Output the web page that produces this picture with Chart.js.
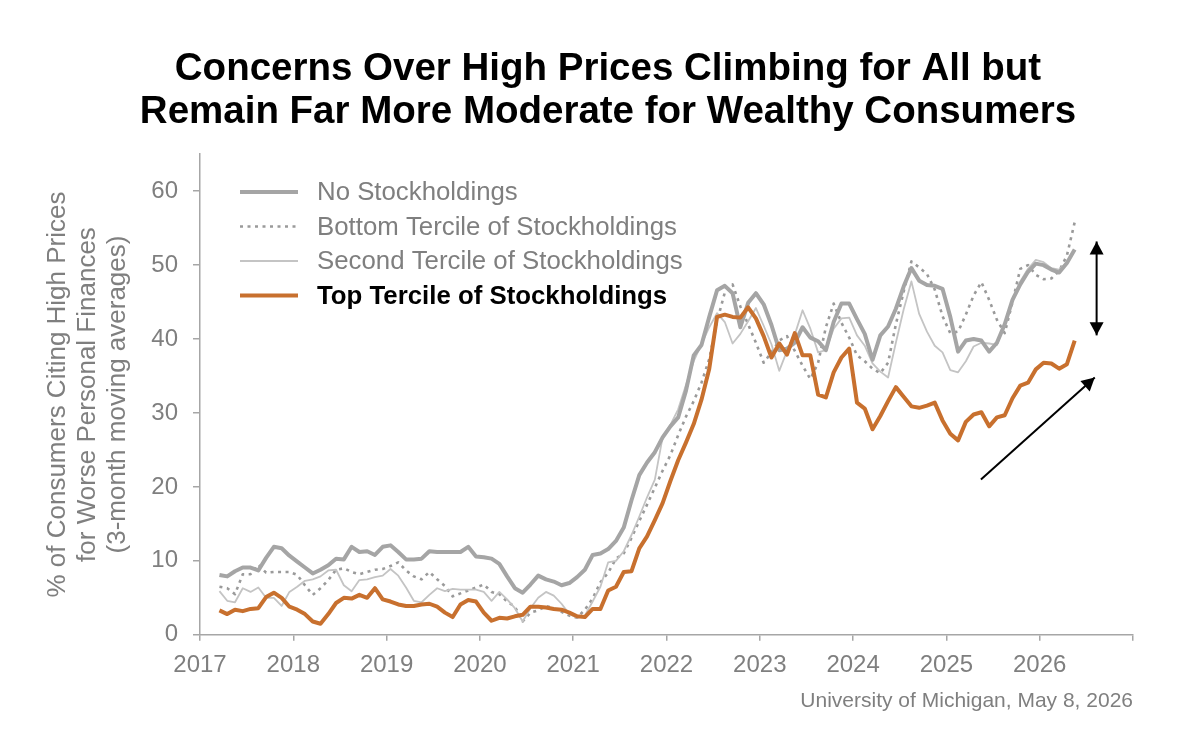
<!DOCTYPE html>
<html>
<head>
<meta charset="utf-8">
<title>Concerns Over High Prices</title>
<script src="https://cdn.jsdelivr.net/npm/chart.js@4.4.1/dist/chart.umd.min.js"></script>
<style>
  html, body { margin: 0; padding: 0; background: #fff; }
  #wrap { width: 1200px; height: 738px; position: relative; }
</style>
</head>
<body>
<div id="wrap"><canvas id="pricesChart"></canvas></div>
<script>
// Monthly 3-month moving averages, March 2017 through May 2026
const firstYear = 2017;
const firstMonth = 3;

const noStock = [
  8.1, 7.9, 8.6, 9.1, 9.1, 8.7, 10.4, 11.9, 11.7, 10.7,
  9.9, 9.1, 8.3, 8.8, 9.4, 10.3, 10.2, 11.9, 11.2, 11.3,
  10.8, 11.9, 12.1, 11.2, 10.2, 10.2, 10.3, 11.3, 11.2, 11.2,
  11.2, 11.2, 11.9, 10.6, 10.5, 10.3, 9.6, 7.9, 6.3, 5.7,
  6.8, 8.0, 7.5, 7.2, 6.7, 7.0, 7.8, 8.8, 10.8, 11.0,
  11.6, 12.7, 14.5, 18.2, 21.6, 23.3, 24.7, 26.7, 28.2, 29.4,
  33.0, 37.8, 39.2, 43.0, 46.6, 47.2, 46.2, 41.6, 44.9, 46.2,
  44.7, 41.9, 38.5, 38.7, 39.5, 41.6, 40.2, 39.7, 38.5, 42.3,
  44.8, 44.8, 42.7, 40.7, 37.2, 40.5, 41.7, 44.1, 47.1, 49.6,
  47.9, 47.3, 47.2, 46.8, 43.0, 38.3, 39.8, 40.0, 39.8, 38.3,
  39.5, 42.0, 45.3, 47.4, 49.1, 50.2, 50.0, 49.4, 49.0, 50.3,
  52.1
];

const bottomTercile = [
  6.5, 6.3, 5.5, 8.2, 8.2, 9.5, 8.4, 8.5, 8.5, 8.5,
  8.1, 6.7, 5.4, 6.3, 7.4, 8.8, 9.0, 8.5, 8.2, 8.5,
  8.8, 8.9, 9.3, 9.8, 8.7, 7.9, 7.5, 8.5, 7.5, 6.6,
  5.2, 5.6, 6.0, 6.4, 6.8, 5.8, 5.5, 4.5, 3.8, 1.8,
  3.0, 3.3, 3.9, 3.6, 3.1, 2.6, 2.3, 3.4, 4.9, 7.1,
  8.4, 10.3, 11.0, 13.1, 15.4, 17.6, 19.9, 22.2, 24.3, 27.0,
  29.5, 31.6, 34.1, 37.3, 42.4, 46.3, 47.4, 44.4, 42.0, 39.5,
  36.8, 38.2, 39.8, 40.4, 38.4, 36.4, 34.6, 36.8, 41.6, 44.8,
  42.2, 40.2, 37.8, 37.0, 36.0, 35.4, 36.8, 42.0, 46.4, 50.5,
  49.7, 48.8, 46.7, 43.1, 40.8, 41.0, 43.3, 45.9, 47.7, 45.3,
  42.6, 40.8, 45.0, 49.5, 50.0, 48.7, 48.1, 48.2, 49.2, 51.3,
  55.8
];

const secondTercile = [
  5.9, 4.6, 4.4, 6.3, 5.8, 6.4, 5.0, 5.0, 3.9, 5.8,
  6.5, 7.3, 7.5, 7.9, 8.7, 8.8, 6.7, 5.9, 7.4, 7.5,
  7.8, 8.0, 8.9, 8.0, 6.4, 4.6, 4.4, 5.4, 6.3, 5.9,
  6.2, 6.1, 6.1, 6.1, 5.8, 4.6, 5.8, 4.8, 3.6, 1.8,
  3.6, 5.0, 5.8, 5.3, 4.2, 2.8, 2.3, 2.6, 4.5, 6.5,
  9.8, 10.0, 11.3, 13.5, 16.0, 18.6, 21.0, 26.7, 28.4, 30.5,
  33.8, 37.0, 39.3, 41.6, 43.5, 42.3, 39.4, 40.7, 42.4, 44.2,
  41.8, 39.3, 35.7, 38.4, 40.6, 43.9, 41.4, 38.2, 38.5, 41.4,
  42.8, 42.9, 40.5, 39.1, 36.7, 35.6, 34.8, 39.5, 44.0, 47.8,
  43.4, 41.0, 39.1, 38.2, 35.8, 35.5, 37.0, 39.0, 39.5, 39.4,
  39.2, 42.0, 45.3, 47.8, 49.5, 50.7, 50.4, 49.6, 49.4, 50.4,
  52.0
];

const topTercile = [
  3.3, 2.8, 3.4, 3.2, 3.5, 3.6, 5.1, 5.7, 5.0, 3.8,
  3.4, 2.8, 1.8, 1.5, 2.8, 4.3, 5.0, 4.9, 5.4, 5.0,
  6.3, 4.8, 4.5, 4.1, 3.9, 3.9, 4.1, 4.2, 3.8, 3.0,
  2.4, 4.1, 4.7, 4.5, 3.0, 1.9, 2.3, 2.2, 2.5, 2.7,
  3.8, 3.8, 3.7, 3.5, 3.4, 3.0, 2.5, 2.4, 3.5, 3.5,
  6.0, 6.5, 8.5, 8.6, 11.7, 13.3, 15.5, 17.8, 20.8, 23.6,
  26.0, 28.5, 31.8, 36.0, 43.0, 43.3, 43.0, 42.9, 44.3, 42.8,
  40.4, 37.5, 39.4, 37.9, 40.8, 37.8, 37.8, 32.5, 32.1, 35.5,
  37.5, 38.7, 31.4, 30.6, 27.8, 29.6, 31.6, 33.5, 32.2, 30.9,
  30.7, 31.0, 31.4, 29.0, 27.2, 26.3, 28.8, 29.8, 30.1, 28.2,
  29.4, 29.7, 32.0, 33.7, 34.1, 35.9, 36.8, 36.7, 36.0, 36.6,
  39.8
];

const seriesNames = [
  "No Stockholdings",
  "Bottom Tercile of Stockholdings",
  "Second Tercile of Stockholdings",
  "Top Tercile of Stockholdings"
];

const yearTicks = [2017, 2018, 2019, 2020, 2021, 2022, 2023, 2024, 2025, 2026];
const valueTicks = [0, 10, 20, 30, 40, 50, 60];

// month -> decimal year (plotted mid-month)
const monthX = noStock.map((_, i) => firstYear + (firstMonth - 1 + i + 0.5) / 12);
const toPoints = (vals) => vals.map((v, i) => ({ x: monthX[i], y: v }));

// annotation arrows, in data units
const arrows = [
  { from: [2026.61, 53.2], to: [2026.61, 40.5], both: true },
  { from: [2025.37, 21.0], to: [2026.59, 34.8], both: false }
];

const FONT = "'Liberation Sans', Arial, Helvetica, sans-serif";
const GRAY_TEXT = "#7f7f7f";
const AXIS_GRAY = "#a6a6a6";

function drawHead(ctx, fx, fy, tx, ty) {
  const a = Math.atan2(ty - fy, tx - fx);
  const len = 13, half = 7;
  ctx.beginPath();
  ctx.moveTo(tx, ty);
  ctx.lineTo(tx - len * Math.cos(a) + half * Math.sin(a), ty - len * Math.sin(a) - half * Math.cos(a));
  ctx.lineTo(tx - len * Math.cos(a) - half * Math.sin(a), ty - len * Math.sin(a) + half * Math.cos(a));
  ctx.closePath();
  ctx.fill();
}

const arrowPlugin = {
  id: "arrows",
  afterDatasetsDraw(chart) {
    const { ctx, scales } = chart;
    ctx.save();
    ctx.strokeStyle = "#000";
    ctx.fillStyle = "#000";
    ctx.lineWidth = 2;
    arrows.forEach((a) => {
      const x0 = scales.x.getPixelForValue(a.from[0]);
      const y0 = scales.y.getPixelForValue(a.from[1]);
      const x1 = scales.x.getPixelForValue(a.to[0]);
      const y1 = scales.y.getPixelForValue(a.to[1]);
      ctx.beginPath();
      ctx.moveTo(x0, y0);
      ctx.lineTo(x1, y1);
      ctx.stroke();
      drawHead(ctx, x0, y0, x1, y1);
      if (a.both) drawHead(ctx, x1, y1, x0, y0);
    });
    ctx.restore();
  }
};

// legend sitting inside the plot, top left
const insideLegend = {
  id: "insideLegend",
  afterDatasetsDraw(chart) {
    const { ctx } = chart;
    ctx.save();
    chart.data.datasets.forEach((ds, i) => {
      const y = 192 + i * 34.5;
      ctx.beginPath();
      ctx.strokeStyle = ds.borderColor;
      ctx.lineWidth = ds.borderWidth;
      ctx.setLineDash(ds.borderDash || []);
      ctx.moveTo(240, y);
      ctx.lineTo(298, y);
      ctx.stroke();
      ctx.setLineDash([]);
      const last = i === chart.data.datasets.length - 1;
      ctx.font = (last ? "bold " : "") + "25.8px " + FONT;
      ctx.fillStyle = last ? "#000" : GRAY_TEXT;
      ctx.textBaseline = "middle";
      ctx.textAlign = "left";
      ctx.fillText(ds.label, 317, y + 1);
    });
    ctx.restore();
  }
};

// the heading is centred over the whole picture, not the plot box
const titleShift = {
  id: "titleShift",
  afterLayout(chart) {
    if (chart.titleBlock) chart.titleBlock.left = 83;
  }
};

const ctx = document.getElementById("pricesChart").getContext("2d");

new Chart(ctx, {
  type: "line",
  data: {
    datasets: [
      {
        label: seriesNames[0],
        data: toPoints(noStock),
        borderColor: "#a5a5a5",
        borderWidth: 4,
        order: 1
      },
      {
        label: seriesNames[1],
        data: toPoints(bottomTercile),
        borderColor: "#9a9a9a",
        borderWidth: 2.6,
        borderDash: [3, 4.5],
        order: 3
      },
      {
        label: seriesNames[2],
        data: toPoints(secondTercile),
        borderColor: "#c4c4c4",
        borderWidth: 1.8,
        order: 2
      },
      {
        label: seriesNames[3],
        data: toPoints(topTercile),
        borderColor: "#c8702e",
        borderWidth: 4,
        order: 0
      }
    ]
  },
  options: {
    responsive: true,
    maintainAspectRatio: false,
    animation: false,
    layout: { padding: { left: 0, right: 67, top: 0, bottom: 0 } },
    elements: {
      point: { radius: 0 },
      line: { tension: 0, borderJoinStyle: "round" }
    },
    plugins: {
      legend: { display: false },
      tooltip: { enabled: false },
      title: {
        display: true,
        text: [
          "Concerns Over High Prices Climbing for All but",
          "Remain Far More Moderate for Wealthy Consumers"
        ],
        color: "#000",
        font: { family: FONT, size: 38.5, weight: "bold", lineHeight: 1.12 },
        padding: { top: 48, bottom: 20 }
      },
      subtitle: {
        display: true,
        position: "bottom",
        align: "end",
        text: "University of Michigan, May 8, 2026",
        color: GRAY_TEXT,
        font: { family: FONT, size: 21, lineHeight: 1.2 },
        padding: { top: 0, bottom: 24 }
      }
    },
    scales: {
      x: {
        type: "linear",
        min: 2017,
        max: 2027,
        afterFit: (s) => { s.height = 54; },
        afterBuildTicks: (s) => {
          s.ticks = yearTicks.concat([2027]).map((v) => ({ value: v }));
        },
        border: { display: true, color: AXIS_GRAY, width: 1.5 },
        grid: { drawOnChartArea: false, color: AXIS_GRAY, lineWidth: 1.5, tickLength: 6 },
        ticks: {
          color: GRAY_TEXT,
          padding: 10,
          maxRotation: 0,
          autoSkip: false,
          font: { family: FONT, size: 24 },
          callback: (v) => (yearTicks.includes(v) ? String(v) : "")
        }
      },
      y: {
        min: 0,
        max: 65,
        afterFit: (s) => { s.width = 200; },
        afterBuildTicks: (s) => {
          s.ticks = valueTicks.map((v) => ({ value: v }));
        },
        border: { display: true, color: AXIS_GRAY, width: 1.5 },
        grid: { drawOnChartArea: false, color: AXIS_GRAY, lineWidth: 1.5, tickLength: 7 },
        ticks: {
          color: GRAY_TEXT,
          padding: 15,
          font: { family: FONT, size: 24 }
        },
        title: {
          display: true,
          text: [
            "% of Consumers Citing High Prices",
            "for Worse Personal Finances",
            "(3-month moving averages)"
          ],
          color: GRAY_TEXT,
          font: { family: FONT, size: 26, lineHeight: 1.154 },
          padding: { top: 43, bottom: 0 }
        }
      }
    }
  },
  plugins: [arrowPlugin, insideLegend, titleShift]
});
</script>
</body>
</html>
